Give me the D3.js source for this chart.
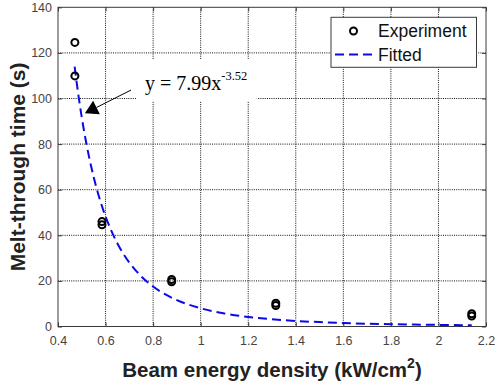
<!DOCTYPE html>
<html>
<head>
<meta charset="utf-8">
<script src="https://cdn.jsdelivr.net/npm/d3@7"></script>
<style>
  html, body { margin: 0; padding: 0; background: #fff; }
  svg { display: block; }
</style>
</head>
<body>
<svg id="chart" width="495" height="384"></svg>
<script>
// Measured melt-through times (two runs per energy density)
const expX = [0.471, 0.471, 0.585, 0.585, 0.878, 0.878, 1.316, 1.316, 2.140, 2.140];
const expY = [124.6, 109.9, 44.6, 46.0, 19.6, 20.6, 9.2, 10.2, 4.6, 5.6];

// Power-law fit y = 7.99 x^-3.52, tabulated
const fitX = [0.47, 0.48, 0.50, 0.52, 0.55, 0.57, 0.60, 0.62, 0.65, 0.70, 0.75, 0.80, 0.85, 0.90, 1.00,
              1.10, 1.20, 1.30, 1.40, 1.50, 1.60, 1.70, 1.80, 1.90, 2.00, 2.10, 2.14];
const fitY = [113.96, 105.83, 91.66, 79.84, 65.54, 57.79, 48.25, 42.99, 36.40, 28.04, 22.00, 17.53, 14.16, 11.58, 7.99,
              5.71, 4.21, 3.17, 2.44, 1.92, 1.53, 1.23, 1.01, 0.83, 0.70, 0.59, 0.56];

const xTicks = [0.4, 0.6, 0.8, 1, 1.2, 1.4, 1.6, 1.8, 2, 2.2];
const yTicks = [0, 20, 40, 60, 80, 100, 120, 140];

const svg = d3.select("#chart");
const L = 58, R = 486, T = 7.3, B = 326.5;
const x = d3.scaleLinear().domain([0.4, 2.2]).range([L, R]);
const y = d3.scaleLinear().domain([0, 140]).range([B, T]);

const sans = "'Liberation Sans', Arial, Helvetica, sans-serif";
const serif = "'Liberation Serif', 'Times New Roman', serif";
const axisColor = "#3a3a3a";
const blue = "#0a0ae6";

// dotted grid
const grid = svg.append("g").attr("stroke", "#111").attr("stroke-width", 1)
  .attr("stroke-dasharray", "1,1.2");
grid.selectAll(".gx").data(xTicks.slice(1, -1)).join("line")
  .attr("x1", d => x(d)).attr("x2", d => x(d)).attr("y1", T).attr("y2", B);
grid.selectAll(".gy").data(yTicks.slice(1, -1)).join("line")
  .attr("x1", L).attr("x2", R).attr("y1", d => y(d)).attr("y2", d => y(d));

// axes with inward ticks, box on all four sides
function styleAxis(g) {
  g.select(".domain").remove();
  g.selectAll(".tick line").attr("stroke", axisColor);
  g.selectAll(".tick text").attr("fill", "#444").style("font-family", sans).style("font-size", "12.5px");
}
svg.append("g").attr("transform", `translate(0,${B})`)
  .call(d3.axisBottom(x).tickValues(xTicks).tickSize(-4).tickPadding(10).tickFormat(d3.format("")))
  .call(styleAxis);
svg.append("g").attr("transform", `translate(0,${T})`)
  .call(d3.axisTop(x).tickValues(xTicks).tickSize(-4).tickFormat(""))
  .call(styleAxis);
svg.append("g").attr("transform", `translate(${L},0)`)
  .call(d3.axisLeft(y).tickValues(yTicks).tickSize(-4).tickPadding(6))
  .call(styleAxis);
svg.append("g").attr("transform", `translate(${R},0)`)
  .call(d3.axisRight(y).tickValues(yTicks).tickSize(-4).tickFormat(""))
  .call(styleAxis);

svg.append("rect").attr("x", L).attr("y", T).attr("width", R - L).attr("height", B - T)
  .attr("fill", "none").attr("stroke", axisColor).attr("stroke-width", 1);

// fitted curve
const fitData = fitX.map((v, i) => [v, fitY[i]]);
svg.append("path").datum(fitData)
  .attr("d", d3.line().x(d => x(d[0])).y(d => y(d[1])).curve(d3.curveMonotoneX))
  .attr("fill", "none").attr("stroke", blue).attr("stroke-width", 2)
  .attr("stroke-dasharray", "9,5");

// experiment markers
svg.append("g").selectAll("circle").data(expX.map((v, i) => [v, expY[i]])).join("circle")
  .attr("cx", d => x(d[0])).attr("cy", d => y(d[1])).attr("r", 3.5)
  .attr("fill", "none").attr("stroke", "#000").attr("stroke-width", 2);

// equation label with white backing
const boxX0 = 0.732, boxX1 = 1.236, boxY0 = 117.3, boxY1 = 98.9;
svg.append("rect").attr("x", x(boxX0)).attr("y", y(boxY0))
  .attr("width", x(boxX1) - x(boxX0)).attr("height", y(boxY1) - y(boxY0)).attr("fill", "#fff");
const eq = svg.append("text").attr("x", x(0.766)).attr("y", y(103.7))
  .style("font-family", serif).style("font-size", "20px").attr("fill", "#000");
eq.append("tspan").text("y = 7.99x");
eq.append("tspan").attr("dy", -10).style("font-size", "12.5px").text("-3.52");

// arrow from the label to the curve
const a0 = [x(0.707), y(103.7)], a1 = [x(0.513), y(93.5)];
const dx = a1[0] - a0[0], dy = a1[1] - a0[1], len = Math.hypot(dx, dy);
const ux = dx / len, uy = dy / len, hl = 13, hw = 7.5;
const bc = [a1[0] - ux * hl, a1[1] - uy * hl];
svg.append("line").attr("x1", a0[0]).attr("y1", a0[1]).attr("x2", bc[0]).attr("y2", bc[1])
  .attr("stroke", "#000").attr("stroke-width", 1);
svg.append("polygon").attr("points", [
  a1, [bc[0] - uy * hw, bc[1] + ux * hw], [bc[0] + uy * hw, bc[1] - ux * hw]
].map(p => p.join(",")).join(" ")).attr("fill", "#000");

// legend
const lg = svg.append("g");
lg.append("rect").attr("x", 331).attr("y", 17.3).attr("width", 145.5).attr("height", 50)
  .attr("fill", "#fff").attr("stroke", axisColor).attr("stroke-width", 1);
lg.append("circle").attr("cx", 353.5).attr("cy", 31).attr("r", 3.5)
  .attr("fill", "none").attr("stroke", "#000").attr("stroke-width", 2);
lg.append("line").attr("x1", 335).attr("x2", 376).attr("y1", 54.5).attr("y2", 54.5)
  .attr("stroke", blue).attr("stroke-width", 2).attr("stroke-dasharray", "9,5");
lg.append("text").attr("x", 378).attr("y", 37).text("Experiment")
  .style("font-family", sans).style("font-size", "17.5px").attr("fill", "#111");
lg.append("text").attr("x", 378).attr("y", 61).text("Fitted")
  .style("font-family", sans).style("font-size", "17.5px").attr("fill", "#111");

// axis titles
const xt = svg.append("text").attr("x", (L + R) / 2).attr("y", 376.5).attr("text-anchor", "middle")
  .style("font-family", sans).style("font-size", "20.5px").style("font-weight", "bold").attr("fill", "#222");
xt.append("tspan").text("Beam energy density (kW/cm");
xt.append("tspan").attr("dy", -9).style("font-size", "14px").text("2");
xt.append("tspan").attr("dy", 9).text(")");

svg.append("text").attr("transform", `translate(25,${(T + B) / 2}) rotate(-90)`)
  .attr("text-anchor", "middle")
  .style("font-family", sans).style("font-size", "21px").style("font-weight", "bold").attr("fill", "#222")
  .text("Melt-through time (s)");
</script>
</body>
</html>
